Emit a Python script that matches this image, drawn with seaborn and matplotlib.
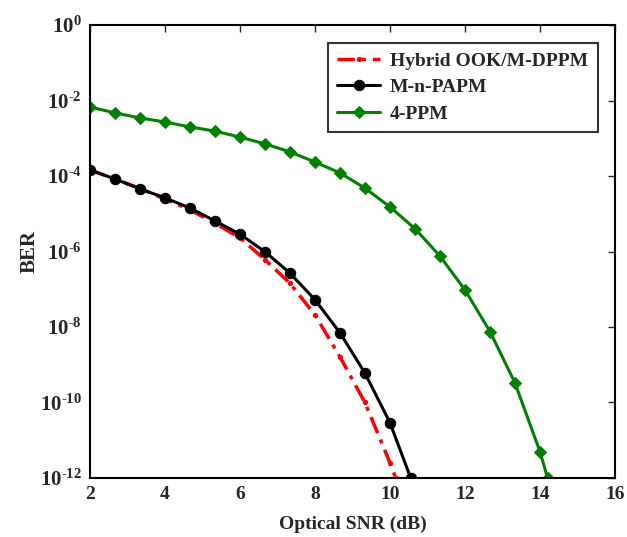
import matplotlib
matplotlib.use("Agg")
import matplotlib.pyplot as plt
import pandas as pd
import seaborn as sns

# data (log10 of BER)
snr_grid = [2, 2.67, 3.33, 4, 4.67, 5.33, 6, 6.67, 7.33, 8, 8.67, 9.33, 10]

hybrid_x = snr_grid + [10.15]
hybrid_log = [-3.84, -4.08, -4.33, -4.61, -4.90, -5.25, -5.64, -6.22, -6.84, -7.68, -8.80, -10.0, -11.6, -12.0]

papm_x = snr_grid + [10.55]
papm_log = [-3.84, -4.08, -4.34, -4.58, -4.85, -5.19, -5.54, -6.01, -6.57, -7.28, -8.16, -9.22, -10.54, -12.0]

ppm_x = [2, 2.67, 3.33, 4, 4.67, 5.33, 6, 6.67, 7.33, 8, 8.67, 9.33, 10, 10.67,
         11.33, 12, 12.67, 13.33, 14, 14.2]
ppm_log = [-2.17, -2.33, -2.46, -2.57, -2.70, -2.81, -2.97, -3.15, -3.36, -3.63,
           -3.92, -4.32, -4.82, -5.40, -6.12, -7.02, -8.13, -9.48, -11.31, -12.0]

df_h = pd.DataFrame({"snr": hybrid_x, "ber": [10 ** v for v in hybrid_log]})
df_p = pd.DataFrame({"snr": papm_x, "ber": [10 ** v for v in papm_log]})
df_4 = pd.DataFrame({"snr": ppm_x, "ber": [10 ** v for v in ppm_log]})

sns.set_style("white")
plt.rcParams["font.family"] = ["Liberation Serif", "DejaVu Serif"]
plt.rcParams["font.weight"] = "bold"
plt.rcParams["mathtext.fontset"] = "custom"
plt.rcParams["mathtext.rm"] = "Liberation Serif"
plt.rcParams["mathtext.bf"] = "Liberation Serif:bold"

fig = plt.figure(figsize=(6.27, 5.37), dpi=100)
ax = fig.add_axes([0.1435, 0.1099, 0.8375, 0.8435])

sns.lineplot(x="snr", y="ber", data=df_h, ax=ax, color="red", lw=2.5, linestyle=(0, (5, 2, 1.2, 2)),
             marker=".", markersize=6, markeredgecolor="red", label="Hybrid OOK/M-DPPM")
sns.lineplot(x="snr", y="ber", data=df_p, ax=ax, color="black", lw=2.2,
             marker="o", markersize=7.5, markeredgecolor="black", label="M-n-PAPM")
sns.lineplot(x="snr", y="ber", data=df_4, ax=ax, color="green", lw=2.2,
             marker="D", markersize=6.5, markeredgecolor="green", label="4-PPM")

ax.set_yscale("log")
ax.set_xlim(2, 16)
ax.set_ylim(1e-12, 1)
ax.set_xticks(range(2, 17, 2))
ax.set_xticklabels([str(v) for v in range(2, 17, 2)], fontsize=14, fontweight="bold")
yt = [10.0 ** e for e in range(-12, 1, 2)]
ax.set_yticks(yt)
ax.set_yticklabels([r"$\mathbf{10^{\mathbf{\text{%d}}}}$" % e for e in range(-12, 1, 2)], fontsize=15)
ax.minorticks_off()
ax.tick_params(direction="in", length=5, width=1, top=True, right=True, pad=6)
for s in ax.spines.values():
    s.set_color("black")
    s.set_linewidth(1.5)

ax.set_xlabel("Optical SNR (dB)", fontsize=14, fontweight="bold", labelpad=9)
ax.set_ylabel("BER", fontsize=15, fontweight="bold", labelpad=0)

leg = ax.legend(loc="upper right", fontsize=14, frameon=True, fancybox=False,
                handlelength=2.2, handletextpad=0.5, borderaxespad=0.9,
                labelspacing=0.45, borderpad=0.5)
leg.get_frame().set_edgecolor("black")
leg.get_frame().set_linewidth(1.5)
for t in leg.get_texts():
    t.set_fontweight("bold")

fig.savefig("out.png", dpi=100)
